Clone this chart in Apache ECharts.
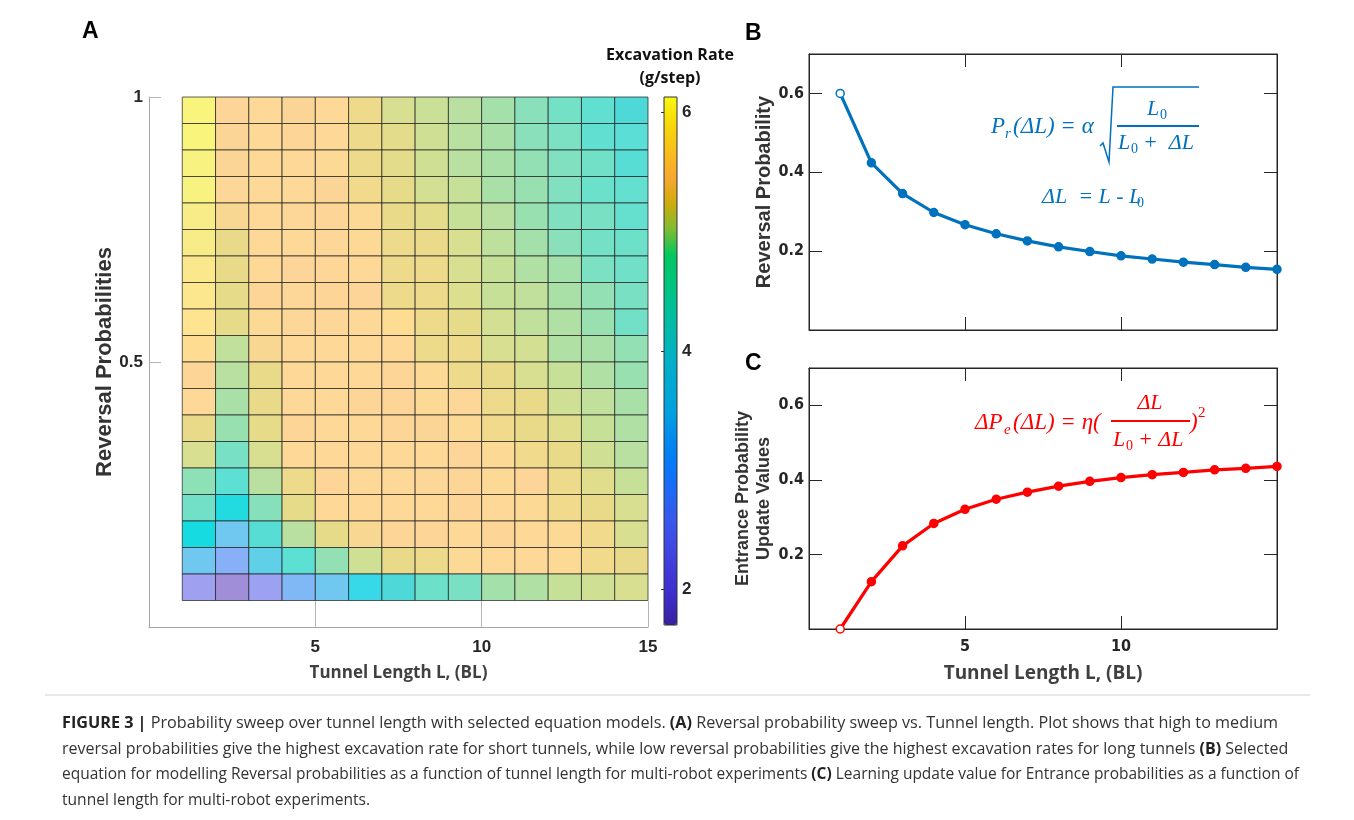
<!DOCTYPE html>
<html>
<head>
<meta charset="utf-8">
<script src="https://cdn.jsdelivr.net/npm/echarts@6/dist/echarts.min.js"></script>
<style>
  html, body { margin: 0; padding: 0; background: #fff; }
  #main { width: 1354px; height: 820px; }
</style>
</head>
<body>
<div id="main"></div>
<script>
// ---- panel A: excavation rate (g/step), rows top (p=0.95) to bottom (p=0.05) ----
var lengthBins = [1, 2, 3, 4, 5, 6, 7, 8, 9, 10, 11, 12, 13, 14];
var probLevels = [0.95, 0.9, 0.85, 0.8, 0.75, 0.7, 0.65, 0.6, 0.55, 0.5,
                  0.45, 0.4, 0.35, 0.3, 0.25, 0.2, 0.15, 0.1, 0.05];
var rateRows = [
    [6.10, 5.45, 5.50, 5.40, 5.50, 5.25, 5.05, 4.98, 4.90, 4.80, 4.62, 4.40, 4.20, 4.00],
    [6.10, 5.40, 5.50, 5.42, 5.50, 5.25, 5.15, 5.00, 4.90, 4.82, 4.62, 4.50, 4.20, 4.12],
    [6.05, 5.40, 5.50, 5.50, 5.52, 5.25, 5.15, 5.00, 4.90, 4.82, 4.68, 4.55, 4.38, 4.10],
    [6.05, 5.48, 5.50, 5.50, 5.40, 5.30, 5.18, 5.02, 4.96, 4.82, 4.72, 4.55, 4.30, 4.22],
    [5.95, 5.35, 5.50, 5.48, 5.42, 5.52, 5.20, 5.15, 4.96, 4.90, 4.72, 4.55, 4.48, 4.25],
    [5.95, 5.20, 5.50, 5.50, 5.48, 5.52, 5.25, 5.22, 5.05, 4.92, 4.80, 4.62, 4.40, 4.32],
    [5.88, 5.20, 5.50, 5.45, 5.47, 5.50, 5.25, 5.25, 5.05, 4.96, 4.86, 4.80, 4.50, 4.35],
    [5.85, 5.18, 5.42, 5.48, 5.42, 5.45, 5.25, 5.25, 5.08, 4.96, 4.93, 4.82, 4.68, 4.48],
    [5.80, 5.18, 5.52, 5.48, 5.48, 5.50, 5.58, 5.25, 5.18, 5.02, 4.93, 4.86, 4.72, 4.38],
    [5.58, 4.93, 5.35, 5.50, 5.50, 5.50, 5.50, 5.25, 5.25, 5.05, 5.02, 4.86, 4.82, 4.68],
    [5.42, 4.90, 5.20, 5.50, 5.50, 5.50, 5.42, 5.52, 5.25, 5.20, 5.05, 4.96, 4.86, 4.72],
    [5.50, 4.82, 5.20, 5.50, 5.50, 5.42, 5.42, 5.52, 5.48, 5.25, 5.20, 5.00, 4.93, 4.82],
    [5.20, 4.72, 5.18, 5.42, 5.50, 5.50, 5.42, 5.40, 5.52, 5.30, 5.20, 5.12, 4.96, 4.86],
    [5.05, 4.45, 5.05, 5.50, 5.50, 5.50, 5.50, 5.50, 5.45, 5.52, 5.30, 5.20, 5.00, 4.90],
    [4.65, 4.15, 4.90, 5.25, 5.42, 5.50, 5.50, 5.48, 5.42, 5.52, 5.45, 5.25, 5.12, 4.96],
    [4.38, 3.88, 4.60, 5.18, 5.50, 5.50, 5.50, 5.50, 5.42, 5.50, 5.52, 5.30, 5.20, 5.05],
    [3.85, 3.20, 4.10, 4.90, 5.18, 5.35, 5.42, 5.42, 5.50, 5.42, 5.50, 5.52, 5.30, 5.05],
    [3.20, 2.75, 3.55, 4.15, 4.68, 5.00, 5.20, 5.25, 5.52, 5.50, 5.50, 5.52, 5.30, 5.20],
    [2.25, 1.70, 2.30, 2.90, 3.20, 3.75, 4.00, 4.32, 4.48, 4.80, 4.86, 4.96, 5.00, 5.05]
];
var rateTicks = [2, 4, 6];

// ---- panels B and C ----
var tunnelLen = [1, 2, 3, 4, 5, 6, 7, 8, 9, 10, 11, 12, 13, 14, 15];
var reversalProb = [0.600, 0.424, 0.346, 0.298, 0.267, 0.244, 0.226, 0.211, 0.199,
                    0.188, 0.180, 0.172, 0.166, 0.159, 0.154];
var entranceUpdate = [0.000, 0.127, 0.223, 0.283, 0.321, 0.348, 0.367, 0.383, 0.396,
                      0.406, 0.414, 0.420, 0.427, 0.431, 0.436];

// colour of the faded cells (value -> colour) and of the colorbar
var cellStops = [
    [1.6, '#9C88D0'], [1.7, '#A090D8'], [2.25, '#A0A0F0'], [2.75, '#88B0F8'],
    [3.2, '#70C8F0'], [3.55, '#60D0E8'], [3.75, '#38D8E8'], [3.85, '#14DCE2'],
    [4.0, '#50D8D8'], [4.15, '#5CE0D4'], [4.35, '#70E0C8'], [4.55, '#80E0C0'],
    [4.7, '#94E0B2'], [4.82, '#A8E0A8'], [4.9, '#B8E0A0'], [4.96, '#C8E098'],
    [5.05, '#D8E090'], [5.2, '#E8DA88'], [5.3, '#F2DA8C'], [5.42, '#FDD498'],
    [5.5, '#FDD898'], [5.58, '#FEDC90'], [5.8, '#FEE490'], [5.95, '#F8EC88'],
    [6.13, '#F8F67A']
];
var barColors = ['#3A20A0', '#3E2CC8', '#4038D8', '#4048E4', '#3858EC', '#2068F4', '#0878F8',
                 '#0088F0', '#00A0E0', '#00A8D4', '#00B0C8', '#00B8B0', '#00C098', '#00C47C',
                 '#00C860', '#80BC30', '#D0AC10', '#F8A830', '#F8C018', '#F8D808', '#F8F810'];

var captionLines = [
    ['{b|FIGURE 3 |} Probability sweep over tunnel length with selected equation models. {b|(A)} Reversal probability sweep vs. Tunnel length. Plot shows that high to medium', 16.2],
    ['reversal probabilities give the highest excavation rate for short tunnels, while low reversal probabilities give the highest excavation rates for long tunnels {b|(B)} Selected', 16.0],
    ['equation for modelling Reversal probabilities as a function of tunnel length for multi-robot experiments {b|(C)} Learning update value for Entrance probabilities as a function of', 15.5],
    ['tunnel length for multi-robot experiments.', 15.6]
];

function hexRgb(h) {
    return [parseInt(h.substr(1, 2), 16), parseInt(h.substr(3, 2), 16), parseInt(h.substr(5, 2), 16)];
}
function rampFrom(stops, lo, hi, n) {
    var out = [];
    for (var i = 0; i < n; i++) {
        var v = lo + (hi - lo) * i / (n - 1);
        var k = 0;
        while (k < stops.length - 2 && stops[k + 1][0] < v) k++;
        var a = stops[k], b = stops[k + 1];
        var t = Math.max(0, Math.min(1, (v - a[0]) / (b[0] - a[0])));
        var ca = hexRgb(a[1]), cb = hexRgb(b[1]);
        out.push('rgb(' + ca.map(function (c, j) { return Math.round(c + (cb[j] - c) * t); }).join(',') + ')');
    }
    return out;
}

var cells = [];
probLevels.forEach(function (p, r) {
    lengthBins.forEach(function (x, c) {
        cells.push([x, p, rateRows[r][c]]);
    });
});
var cellW = 1, cellH = 0.05;

function renderCell(params, api) {
    var p0 = api.coord([api.value(0), api.value(1) + cellH]);
    var p1 = api.coord([api.value(0) + cellW, api.value(1)]);
    return {
        type: 'rect',
        shape: { x: p0[0], y: p0[1], width: p1[0] - p0[0], height: p1[1] - p0[1] },
        style: { fill: api.visual('color'), stroke: 'rgba(30,30,30,0.7)', lineWidth: 1 }
    };
}

var boldSans = 'Liberation Sans';
var narrow = "'Liberation Sans Narrow', 'DejaVu Sans Condensed', 'Arial Narrow', sans-serif";
var nameFont = "'Open Sans', sans-serif";
var blue = '#0072BD', red = '#FF0000';

// MATLAB-like box axis: ticks inside, never moved onto zero
function boxAxis(grid, pos, showLabel, extra, labelMargin) {
    var ax = {
        gridIndex: grid, type: 'value', position: pos,
        axisLine: { show: true, onZero: false, lineStyle: { color: '#262626', width: 1 } },
        axisTick: { show: true, inside: true, length: 13, lineStyle: { color: '#262626' } },
        axisLabel: {
            show: showLabel, showMinLabel: false, showMaxLabel: false,
            color: '#262626', fontWeight: 'bold', fontSize: 16, fontFamily: narrow,
            margin: labelMargin || 5
        },
        splitLine: { show: false }
    };
    return Object.assign(ax, extra);
}

var lineSeries = function (name, data, color, xi, yi) {
    return {
        name: name, type: 'line', xAxisIndex: xi, yAxisIndex: yi, clip: false,
        data: tunnelLen.map(function (x, i) {
            var d = { value: [x, data[i]] };
            if (i === 0) d.itemStyle = { color: '#fff' };
            return d;
        }),
        symbol: 'circle', symbolSize: 8,
        lineStyle: { color: color, width: 3.2 },
        itemStyle: { color: color, borderColor: color, borderWidth: 1.5 },
        z: 3
    };
};

var captionEls = captionLines.map(function (ln, i) {
    return {
        type: 'text', x: 62, y: 723 + i * 26,
        style: {
            text: ln[0], font: ln[1] + "px 'Open Sans'", fill: '#333', verticalAlign: 'middle',
            rich: { b: { fontWeight: 'bold', fontFamily: 'Open Sans', fontSize: ln[1], fill: '#222' } }
        }
    };
});

var myChart = echarts.init(document.getElementById('main'), null, { renderer: 'canvas' });
var option = {
    backgroundColor: '#fff',
    animation: false,
    grid: [
        { left: 149, top: 97, width: 499, height: 530 },
        { left: 664, top: 97, width: 13, height: 528, show: true, borderColor: '#333', borderWidth: 1, z: 10 },
        { left: 809, top: 54, width: 468, height: 276, show: true, borderColor: '#262626', borderWidth: 1 },
        { left: 809, top: 368, width: 468, height: 261, show: true, borderColor: '#262626', borderWidth: 1 }
    ],
    xAxis: [
        {
            gridIndex: 0, type: 'value', min: 0, max: 15, interval: 5,
            axisLine: { show: true, onZero: false, lineStyle: { color: '#a6a6a6' } },
            axisTick: { inside: true, length: 26, lineStyle: { color: '#b5b5b5' } },
            axisLabel: { showMinLabel: false, color: '#262626', fontWeight: 'bold', fontSize: 17, fontFamily: boldSans, margin: 12 },
            splitLine: { show: false },
            name: 'Tunnel Length L, (BL)', nameLocation: 'middle', nameGap: 38,
            nameTextStyle: { color: '#404040', fontWeight: 'bold', fontSize: 17, fontFamily: nameFont }
        },
        { gridIndex: 1, type: 'value', show: false, min: 0, max: 1 },
        boxAxis(2, 'bottom', false, { min: 0, max: 15, interval: 5 }),
        boxAxis(2, 'top', false, { min: 0, max: 15, interval: 5 }),
        boxAxis(3, 'bottom', true, {
            min: 0, max: 15, interval: 5,
            name: 'Tunnel Length L, (BL)', nameLocation: 'middle', nameGap: 35,
            nameTextStyle: { color: '#404040', fontWeight: 'bold', fontSize: 19, fontFamily: nameFont }
        }, 10),
        boxAxis(3, 'top', false, { min: 0, max: 15, interval: 5 })
    ],
    yAxis: [
        {
            gridIndex: 0, type: 'value', min: 0, max: 1, interval: 0.5,
            axisLine: { show: true, onZero: false, lineStyle: { color: '#a6a6a6' } },
            axisTick: { show: true, inside: true, length: 12, lineStyle: { color: '#b5b5b5' } },
            axisLabel: { showMinLabel: false, color: '#262626', fontWeight: 'bold', fontSize: 17, fontFamily: boldSans, margin: 6 },
            splitLine: { show: false },
            name: 'Reversal Probabilities', nameLocation: 'middle', nameGap: 28, nameRotate: 90,
            nameTextStyle: { color: '#333', fontWeight: 'bold', fontSize: 22, fontFamily: boldSans }
        },
        {
            gridIndex: 1, type: 'value', position: 'right', min: 1.7, max: 6.13,
            axisLine: { show: false },
            axisTick: { show: true, inside: true, length: 3, customValues: rateTicks, lineStyle: { color: '#333' } },
            axisLabel: { customValues: rateTicks, color: '#262626', fontWeight: 'bold', fontSize: 17, fontFamily: boldSans, margin: 5 },
            splitLine: { show: false }
        },
        boxAxis(2, 'left', true, {
            min: 0, max: 0.7, interval: 0.2,
            name: 'Reversal Probability', nameLocation: 'middle', nameGap: 24, nameRotate: 90,
            nameTextStyle: { color: '#333', fontWeight: 'bold', fontSize: 20, fontFamily: boldSans }
        }),
        boxAxis(2, 'right', false, { min: 0, max: 0.7, interval: 0.2 }),
        boxAxis(3, 'left', true, {
            min: 0, max: 0.7, interval: 0.2,
            name: 'Entrance Probability\nUpdate Values', nameLocation: 'middle', nameGap: 8, nameRotate: 90,
            nameTextStyle: { color: '#333', fontWeight: 'bold', fontSize: 18, fontFamily: boldSans, lineHeight: 21 }
        }),
        boxAxis(3, 'right', false, { min: 0, max: 0.7, interval: 0.2 })
    ],
    visualMap: [
        {
            type: 'continuous', show: false, seriesIndex: 0, dimension: 2,
            min: 1.6, max: 6.13, inRange: { color: rampFrom(cellStops, 1.6, 6.13, 120) }
        },
        {
            type: 'continuous', show: true, seriesIndex: 3, calculable: false,
            min: 1.7, max: 6.13, left: 664, top: 97, padding: 0,
            itemWidth: 13, itemHeight: 528, text: null,
            inRange: { color: barColors }
        }
    ],
    series: [
        {
            type: 'custom', xAxisIndex: 0, yAxisIndex: 0,
            renderItem: renderCell, data: cells,
            encode: { x: 0, y: 1 }
        },
        lineSeries('reversal', reversalProb, blue, 2, 2),
        lineSeries('entrance', entranceUpdate, red, 4, 4),
        { type: 'scatter', xAxisIndex: 1, yAxisIndex: 1, data: [] }
    ],
    graphic: {
        elements: [
            { type: 'text', x: 82, y: 20, style: { text: 'A', font: 'bold 23px Liberation Sans', fill: '#000' } },
            { type: 'text', x: 745, y: 22, style: { text: 'B', font: 'bold 23px Liberation Sans', fill: '#000' } },
            { type: 'text', x: 745, y: 352, style: { text: 'C', font: 'bold 23px Liberation Sans', fill: '#000' } },
            {
                type: 'text', x: 670, y: 44,
                style: { text: 'Excavation Rate\n(g/step)', font: "bold 16px 'Open Sans'", fill: '#111', align: 'center', lineHeight: 23 }
            },
            // equation B
            { type: 'text', x: 991, y: 127, style: { text: 'P', font: 'italic 23px Liberation Serif', fill: blue, verticalAlign: 'middle' } },
            { type: 'text', x: 1005, y: 134, style: { text: 'r', font: 'italic 15px Liberation Serif', fill: blue, verticalAlign: 'middle' } },
            { type: 'text', x: 1013, y: 127, style: { text: '(ΔL) = α', font: 'italic 23px Liberation Serif', fill: blue, verticalAlign: 'middle' } },
            {
                type: 'polyline',
                shape: { points: [[1100, 146], [1103, 143], [1109, 162], [1113, 87], [1199, 87]] },
                style: { stroke: blue, lineWidth: 1.5, fill: null }
            },
            { type: 'line', shape: { x1: 1117, y1: 126, x2: 1199, y2: 126 }, style: { stroke: blue, lineWidth: 2 } },
            { type: 'text', x: 1147, y: 109, style: { text: 'L', font: 'italic 22px Liberation Serif', fill: blue, verticalAlign: 'middle' } },
            { type: 'text', x: 1160, y: 115, style: { text: '0', font: '14px Liberation Serif', fill: blue, verticalAlign: 'middle' } },
            { type: 'text', x: 1118, y: 143, style: { text: 'L', font: 'italic 22px Liberation Serif', fill: blue, verticalAlign: 'middle' } },
            { type: 'text', x: 1131, y: 149, style: { text: '0', font: '14px Liberation Serif', fill: blue, verticalAlign: 'middle' } },
            { type: 'text', x: 1143, y: 143, style: { text: '+  ΔL', font: 'italic 22px Liberation Serif', fill: blue, verticalAlign: 'middle' } },
            { type: 'text', x: 1042, y: 197, style: { text: 'ΔL  = L - L', font: 'italic 22px Liberation Serif', fill: blue, verticalAlign: 'middle' } },
            { type: 'text', x: 1137, y: 203, style: { text: '0', font: '14px Liberation Serif', fill: blue, verticalAlign: 'middle' } },
            // equation C
            { type: 'text', x: 975, y: 423, style: { text: 'ΔP', font: 'italic 23px Liberation Serif', fill: red, verticalAlign: 'middle' } },
            { type: 'text', x: 1004, y: 430, style: { text: 'e', font: 'italic 15px Liberation Serif', fill: red, verticalAlign: 'middle' } },
            { type: 'text', x: 1013, y: 423, style: { text: '(ΔL) = η(', font: 'italic 23px Liberation Serif', fill: red, verticalAlign: 'middle' } },
            { type: 'line', shape: { x1: 1111, y1: 421, x2: 1190, y2: 421 }, style: { stroke: red, lineWidth: 2 } },
            { type: 'text', x: 1150, y: 403, style: { text: 'ΔL', font: 'italic 22px Liberation Serif', fill: red, align: 'center', verticalAlign: 'middle' } },
            { type: 'text', x: 1113, y: 440, style: { text: 'L', font: 'italic 22px Liberation Serif', fill: red, verticalAlign: 'middle' } },
            { type: 'text', x: 1126, y: 446, style: { text: '0', font: '14px Liberation Serif', fill: red, verticalAlign: 'middle' } },
            { type: 'text', x: 1138, y: 440, style: { text: '+ ΔL', font: 'italic 22px Liberation Serif', fill: red, verticalAlign: 'middle' } },
            { type: 'text', x: 1190, y: 423, style: { text: ')', font: 'italic 23px Liberation Serif', fill: red, verticalAlign: 'middle' } },
            { type: 'text', x: 1198, y: 413, style: { text: '2', font: '15px Liberation Serif', fill: red, verticalAlign: 'middle' } },
            // caption
            { type: 'line', shape: { x1: 45, y1: 695, x2: 1310, y2: 695 }, style: { stroke: '#d0d0d0', lineWidth: 1 } }
        ].concat(captionEls)
    }
};
myChart.setOption(option);
</script>
</body>
</html>
